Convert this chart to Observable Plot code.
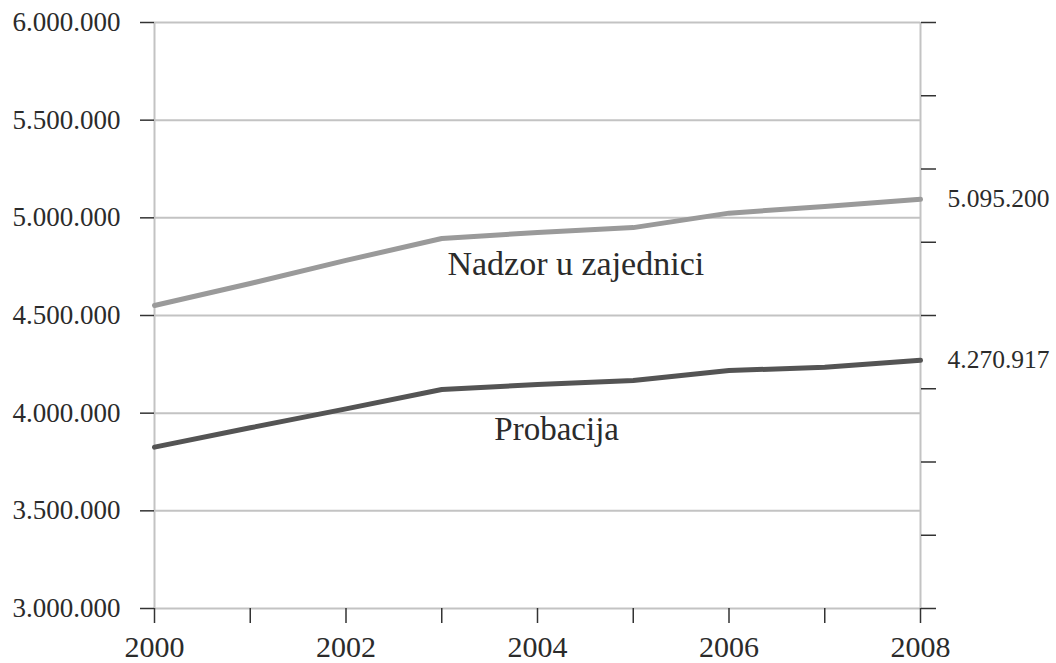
<!DOCTYPE html>
<html>
<head>
<meta charset="utf-8">
<script src="https://cdn.jsdelivr.net/npm/d3@7"></script>
<script src="https://cdn.jsdelivr.net/npm/@observablehq/plot@0.6"></script>
<style>
  html, body { margin: 0; padding: 0; background: #fff; }
  #chart { width: 1056px; height: 663px; }
  #chart svg, #chart svg g, #chart svg text { font-family: "Liberation Serif", "DejaVu Serif", serif !important; }
</style>
</head>
<body>
<div id="chart"></div>
<script>
const years = [2000, 2001, 2002, 2003, 2004, 2005, 2006, 2007, 2008];
const nadzor = [4551000, 4664000, 4782000, 4894000, 4925000, 4950000, 5024000, 5058000, 5095200];
const probacija = [3826000, 3925000, 4022000, 4121000, 4147000, 4167000, 4218000, 4235000, 4270917];
const leftTicks = [3000000, 3500000, 4000000, 4500000, 5000000, 5500000, 6000000];
const rightTicks = [3000000, 3375000, 3750000, 4125000, 4500000, 4875000, 5250000, 5625000, 6000000];
const yearLabels = [2000, 2002, 2004, 2006, 2008];
const seriesNames = ["Nadzor u zajednici", "Probacija"];
const labelYears = [2004.4, 2004.2];

const fmt = d => d3.format(",")(d).replace(/,/g, ".");

const nadzorData = years.map((y, i) => ({year: y, value: nadzor[i]}));
const probData = years.map((y, i) => ({year: y, value: probacija[i]}));
const last = years.length - 1;
const endLabels = [
  {year: years[last], value: nadzor[last]},
  {year: years[last], value: probacija[last]}
];
const interp = (arr, yr) => {
  const i = Math.floor(yr - years[0]);
  const t = yr - years[i];
  return arr[i] + (arr[i + 1] - arr[i]) * t;
};
const nadzorLabel = [{year: labelYears[0], value: interp(nadzor, labelYears[0]), text: seriesNames[0]}];
const probLabel = [{year: labelYears[1], value: interp(probacija, labelYears[1]), text: seriesNames[1]}];

const textColor = "#2b2b2b";
const gridColor = "#c3c3c3";

const chart = Plot.plot({
  width: 1056,
  height: 663,
  marginLeft: 154,
  marginRight: 136,
  marginTop: 22,
  marginBottom: 55,
  style: {background: "#fff", color: textColor, fontFamily: "'Liberation Serif', serif"},
  x: {domain: [2000, 2008]},
  y: {domain: [3000000, 6000000]},
  marks: [
    Plot.ruleY(leftTicks, {stroke: gridColor, strokeWidth: 2}),
    Plot.ruleX([years[0], years[last]], {stroke: gridColor, strokeWidth: 2}),
    Plot.axisY({ticks: leftTicks, tickSize: 14, tickPadding: 20, tickFormat: fmt, fontSize: 27, stroke: "#333", strokeWidth: 1.5, label: null}),
    Plot.axisY({anchor: "right", ticks: rightTicks, tickSize: 15, tickFormat: () => "", stroke: "#333", strokeWidth: 1.5, label: null}),
    Plot.axisX({ticks: years, tickSize: 15, tickFormat: () => "", stroke: "#333", strokeWidth: 1.5, label: null}),
    Plot.axisX({ticks: yearLabels, tickSize: 0, tickPadding: 27, tickFormat: d => String(d), fontSize: 30, label: null}),
    Plot.line(nadzorData, {x: "year", y: "value", stroke: "#9a9a9a", strokeWidth: 5}),
    Plot.line(probData, {x: "year", y: "value", stroke: "#545454", strokeWidth: 5}),
    Plot.text(endLabels, {x: "year", y: "value", text: d => fmt(d.value), textAnchor: "start", dx: 27, fontSize: 25.5, fill: textColor}),
    Plot.text(nadzorLabel, {x: "year", y: "value", text: "text", dy: 34, fontSize: 34, fill: textColor}),
    Plot.text(probLabel, {x: "year", y: "value", text: "text", dy: 46, fontSize: 33, fill: textColor})
  ]
});
document.getElementById("chart").appendChild(chart);
</script>
</body>
</html>
